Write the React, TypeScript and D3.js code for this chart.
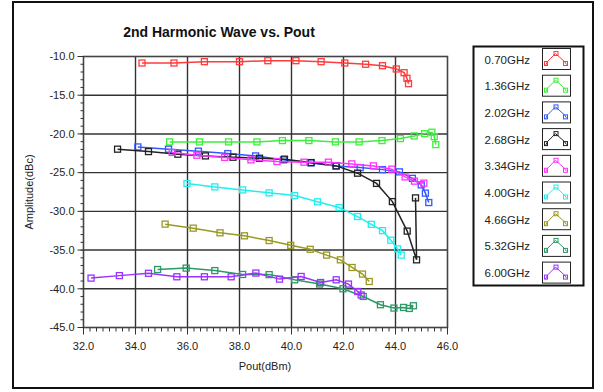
import * as d3 from "d3"

// tick labels
const xTicks = [32, 34, 36, 38, 40, 42, 44, 46]
const yTicks = [-10, -15, -20, -25, -30, -35, -40, -45]

// series (frequency, colour)
const freqLabels = ["0.70GHz", "1.36GHz", "2.02GHz", "2.68GHz", "3.34GHz", "4.00GHz", "4.66GHz", "5.32GHz", "6.00GHz"]
const freqColors = ["#ff3b3b", "#3dee3d", "#3358ff", "#222222", "#ff33ff", "#22eeee", "#999922", "#2e9966", "#9933ff"]

// Pout (dBm) / amplitude (dBc) per series
const pout070 = [34.25, 35.48, 36.65, 38.0, 39.09, 40.17, 41.14, 42.05, 42.85, 43.5, 44.03, 44.33, 44.44, 44.5]
const amp070 = [-10.84, -10.84, -10.67, -10.67, -10.54, -10.54, -10.67, -10.84, -11.0, -11.19, -11.61, -12.09, -12.81, -13.51]

const pout136 = [35.31, 36.46, 37.58, 38.67, 39.65, 40.67, 41.69, 42.6, 43.48, 44.19, 44.72, 45.12, 45.4, 45.49, 45.55]
const amp136 = [-21.03, -21.03, -21.03, -21.03, -20.86, -20.86, -21.03, -21.03, -20.86, -20.6, -20.26, -19.96, -19.78, -20.35, -21.38]

const pout202 = [34.09, 35.27, 36.42, 37.55, 38.62, 39.69, 40.75, 41.71, 42.64, 43.5, 44.15, 44.65, 44.99, 45.15, 45.28]
const amp202 = [-21.68, -21.97, -22.23, -22.54, -22.84, -23.35, -23.74, -24.13, -24.35, -24.61, -24.9, -25.74, -26.58, -27.65, -28.86]

const pout268 = [33.31, 34.5, 35.63, 36.69, 37.75, 38.77, 39.73, 40.75, 41.72, 42.54, 43.27, 43.88, 44.45, 44.81, 44.77]
const amp268 = [-21.97, -22.28, -22.62, -22.84, -23.01, -23.14, -23.26, -23.7, -24.13, -25.07, -26.39, -28.74, -32.55, -36.26, -28.26]

const pout334 = [35.41, 36.36, 37.43, 38.44, 39.44, 40.48, 41.42, 42.32, 43.15, 43.86, 44.37, 44.73, 45.09]
const amp334 = [-22.39, -22.75, -23.03, -23.35, -23.57, -23.65, -23.65, -23.87, -24.13, -24.55, -25.55, -26.1, -26.36]

const pout400 = [35.98, 37.05, 38.12, 39.14, 40.12, 41.0, 41.83, 42.54, 43.07, 43.5, 43.82, 44.08, 44.22]
const amp400 = [-26.41, -26.84, -27.23, -27.61, -27.96, -28.77, -29.51, -30.67, -31.68, -32.49, -33.72, -34.84, -35.65]

const pout466 = [35.14, 36.22, 37.25, 38.19, 39.14, 39.97, 40.72, 41.35, 41.88, 42.33, 42.73, 42.99]
const amp466 = [-31.65, -32.17, -32.77, -33.16, -33.77, -34.39, -34.9, -35.65, -36.26, -37.25, -38.1, -39.06]

const pout532 = [34.85, 35.95, 37.05, 38.12, 39.14, 40.12, 41.08, 41.98, 42.76, 43.42, 43.94, 44.31, 44.53, 44.69]
const amp532 = [-37.51, -37.33, -37.65, -38.15, -38.17, -38.84, -39.39, -40.0, -40.99, -42.06, -42.49, -42.41, -42.54, -42.19]

const pout600 = [32.29, 33.38, 34.5, 35.59, 36.65, 37.68, 38.63, 39.54, 40.37, 41.12, 41.72, 42.19, 42.55, 42.68]
const amp600 = [-38.62, -38.3, -38.0, -38.45, -38.45, -38.45, -37.97, -38.75, -38.41, -39.19, -38.84, -39.39, -40.35, -40.8]

const poutAll = [pout070, pout136, pout202, pout268, pout334, pout400, pout466, pout532, pout600]
const ampAll = [amp070, amp136, amp202, amp268, amp334, amp400, amp466, amp532, amp600]

const font = "Arial, 'Liberation Sans', sans-serif"

export default function App() {
  const W = 603
  const H = 392
  const plot = { left: 83.5, right: 447.5, top: 56.5, bottom: 327.5 }

  const x = d3.scaleLinear().domain([32, 46]).range([plot.left, plot.right])
  const y = d3.scaleLinear().domain([-10, -45]).range([plot.top, plot.bottom])

  const line = d3
    .line<[number, number]>()
    .x((d) => x(d[0]))
    .y((d) => y(d[1]))

  const xMinor = d3.range(32, 46.001, 0.25)
  const yMinor = d3.range(-45, -9.999, 1)

  const series = freqLabels.map((name, i) => ({
    name,
    color: freqColors[i],
    pts: poutAll[i].map((p, j) => [p, ampAll[i][j]] as [number, number]),
  }))

  // legend geometry
  const legX = 473.5
  const legY = 46.5
  const legW = 110
  const legH = 239
  const rowH = 26.7

  return (
    <svg
      width={W}
      height={H}
      style={{ position: "absolute", left: 0, top: 0, background: "#fff" }}
      fontFamily={font}
    >
      <rect x={0} y={0} width={W} height={H} fill="#fff" />
      {/* outer frame */}
      <rect x={13} y={2} width={580} height={386} fill="none" stroke="#111" strokeWidth={2} />

      <text x={219} y={37} textAnchor="middle" fontSize={14} fontWeight="bold" fill="#111">
        2nd Harmonic Wave vs. Pout
      </text>

      {/* grid */}
      {xTicks.slice(1, -1).map((t) => (
        <line key={"gx" + t} x1={x(t)} x2={x(t)} y1={plot.top} y2={plot.bottom} stroke="#333" strokeWidth={1.4} />
      ))}
      {yTicks.slice(1, -1).map((t) => (
        <line key={"gy" + t} x1={plot.left} x2={plot.right} y1={y(t)} y2={y(t)} stroke="#333" strokeWidth={1.4} />
      ))}
      <rect
        x={plot.left}
        y={plot.top}
        width={plot.right - plot.left}
        height={plot.bottom - plot.top}
        fill="none"
        stroke="#444"
        strokeWidth={1.6}
      />

      {/* y axis ticks */}
      {yMinor.map((t) => (
        <line key={"ym" + t} x1={plot.left - 3} x2={plot.left} y1={y(t)} y2={y(t)} stroke="#333" strokeWidth={1} />
      ))}
      {yTicks.map((t) => (
        <g key={"yt" + t}>
          <line x1={plot.left - 6} x2={plot.left} y1={y(t)} y2={y(t)} stroke="#333" strokeWidth={1} />
          <text x={plot.left - 9} y={y(t)} dy="0.35em" textAnchor="end" fontSize={11} fill="#222">
            {t.toFixed(1)}
          </text>
        </g>
      ))}

      {/* x axis ticks */}
      {xMinor.map((t) => (
        <line key={"xm" + t} x1={x(t)} x2={x(t)} y1={plot.bottom} y2={plot.bottom + 4} stroke="#333" strokeWidth={1} />
      ))}
      {xTicks.map((t) => (
        <g key={"xt" + t}>
          <line x1={x(t)} x2={x(t)} y1={plot.bottom} y2={plot.bottom + 7} stroke="#333" strokeWidth={1} />
          <text x={x(t)} y={346} dy="0.35em" textAnchor="middle" fontSize={11} fill="#222">
            {t.toFixed(1)}
          </text>
        </g>
      ))}

      <text x={265} y={366} dy="0.35em" textAnchor="middle" fontSize={11} fill="#222">
        Pout(dBm)
      </text>
      <text
        transform={`translate(29,${(plot.top + plot.bottom) / 2}) rotate(-90)`}
        textAnchor="middle"
        dy="0.35em"
        fontSize={11}
        fill="#222"
      >
        Amplitude(dBc)
      </text>

      {/* series */}
      {series.map((s) => (
        <g key={s.name}>
          <path d={line(s.pts) || ""} fill="none" stroke={s.color} strokeWidth={1.5} />
          {s.pts.map((p, j) => (
            <rect
              key={j}
              x={x(p[0]) - 3}
              y={y(p[1]) - 3}
              width={6}
              height={6}
              fill="none"
              stroke={s.color}
              strokeWidth={1.3}
            />
          ))}
        </g>
      ))}

      {/* legend */}
      <rect x={legX} y={legY} width={legW} height={legH} fill="#fff" stroke="#111" strokeWidth={2} />
      {series.map((s, i) => {
        const cy = legY + 13 + i * rowH
        const bx = 542.5
        const by = cy - 11
        return (
          <g key={"leg" + s.name}>
            <text x={530} y={cy} dy="0.35em" textAnchor="end" fontSize={11.5} fill="#222">
              {s.name}
            </text>
            <rect x={bx} y={by} width={28} height={21} fill="#fff" stroke="#222" strokeWidth={1} />
            <polyline
              points={`${bx + 3},${by + 17} ${bx + 5},${by + 13} ${bx + 13},${by + 5} ${bx + 22},${by + 13} ${bx + 24},${by + 16}`}
              fill="none"
              stroke={s.color}
              strokeWidth={1}
            />
            <rect x={bx + 2} y={by + 13} width={3} height={4} fill="none" stroke={s.color} strokeWidth={1} />
            <rect x={bx + 11.5} y={by + 3} width={4} height={4} fill="none" stroke={s.color} strokeWidth={1} />
            <rect x={bx + 21} y={by + 13} width={4} height={4} fill="none" stroke={s.color} strokeWidth={1} />
          </g>
        )
      })}
    </svg>
  )
}
